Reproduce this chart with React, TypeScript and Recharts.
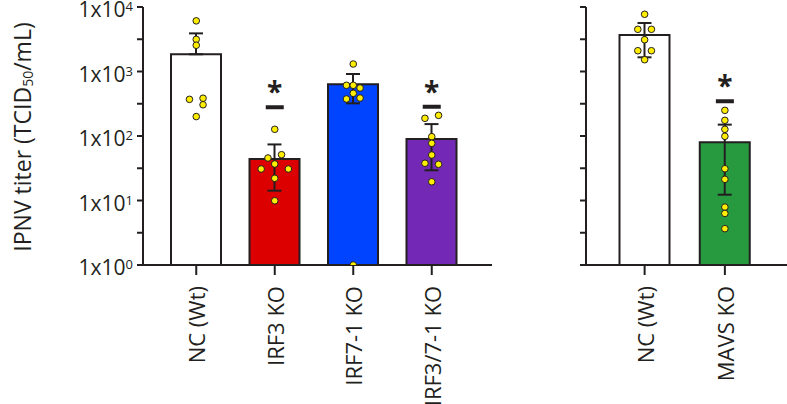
import React from 'react';
import { ComposedChart, Bar, Cell, ErrorBar, Scatter, XAxis, YAxis, Label } from 'recharts';

const INK = '#231f20';
const FONT = '"Open Sans", sans-serif';
const DOT_FILL = '#ffee00';
const LANE_PX = 6.8;

// left panel: IRF knockouts
const leftGroups = ['NC (Wt)', 'IRF3 KO', 'IRF7-1 KO', 'IRF3/7-1 KO'];
const leftMeans = [1850, 44, 632, 90];
const leftLow = [1850, 14.2, 321, 29.4];
const leftHigh = [3900, 74, 914, 153];
const leftDots = [
  [6100, 3150, 2550, 370, 385, 305, 200],
  [127, 45.6, 51.3, 36.8, 30.8, 30.8, 22.1, 9.9],
  [1306, 611, 611, 555, 459, 375, 388, 1],
  [188, 209, 97.5, 77, 50.7, 37.8, 36.4, 19.5],
];
const leftLanes = [
  [0, 0, 0, -1, 1, 1, 0],
  [0, -1, 1, 0, -2, 2, 0, 0],
  [0, -1, 0, 1, 0, -1, 1, 0],
  [-1, 1, 0, 0, 0, -1, 1, 0],
];
const leftSig = [null, 280, null, 284];
const leftColors = ['#ffffff', '#dd0000', '#0044ff', '#7329b5'];

// right panel: MAVS knockout
const rightGroups = ['NC (Wt)', 'MAVS KO'];
const rightMeans = [3680, 80];
const rightLow = [1660, 12.3];
const rightHigh = [5650, 150];
const rightDots = [
  [7710, 4510, 4510, 3110, 2100, 2100, 1524],
  [250, 175, 127, 98.9, 31.1, 21.3, 7.9, 6.3, 3.66],
];
const rightLanes = [
  [0, -1, 1, 0, -1, 1, 0],
  [0, 0, 0, 0, 0, 0, 0, 0, 0],
];
const rightSig = [null, 347];
const rightColors = ['#ffffff', '#27993f'];

const yTicks = [1, 3.162, 10, 31.62, 100, 316.2, 1000, 3162, 10000];
const MAX_DOTS = 9;

const buildRows = (groups, means, low, high, dots, sig) =>
  groups.map((name, i) => {
    const row: any = { name, mean: means[i], err: [means[i] - low[i], high[i] - means[i]], sig: sig[i] };
    for (let k = 0; k < MAX_DOTS; k++) row['d' + k] = dots[i][k] ?? null;
    return row;
  });

const leftRows = buildRows(leftGroups, leftMeans, leftLow, leftHigh, leftDots, leftSig);
const rightRows = buildRows(rightGroups, rightMeans, rightLow, rightHigh, rightDots, rightSig);

const makeDot = (groups: string[], lanes: number[][], k: number) => (props: any) => {
  const { cx, cy, payload } = props;
  if (!payload || payload['d' + k] == null || !Number.isFinite(cx) || !Number.isFinite(cy)) return <g />;
  const gi = groups.indexOf(payload.name);
  const lane = lanes[gi]?.[k] ?? 0;
  return <circle cx={cx + lane * LANE_PX} cy={cy} r={3.3} fill={DOT_FILL} stroke={INK} strokeWidth={1} />;
};

const SigMark = (props: any) => {
  const { cx, cy, payload } = props;
  if (!payload || payload.sig == null || !Number.isFinite(cy)) return <g />;
  return (
    <g>
      <line x1={cx - 9} x2={cx + 9} y1={cy} y2={cy} stroke={INK} strokeWidth={4} />
      <text x={cx} y={cy - 5} textAnchor="middle" fontSize={28} fontWeight="bold" fill={INK} fontFamily={FONT}>
        *
      </text>
    </g>
  );
};

const XTick = (props: any) => {
  const { x, y, payload } = props;
  return (
    <text
      transform={`translate(${x},${y + 9}) rotate(-90)`}
      textAnchor="end"
      dominantBaseline="central"
      fontSize={22}
      fill={INK}
      fontFamily={FONT}
    >
      {payload.value}
    </text>
  );
};

const YTick = (props: any) => {
  const { x, y, payload } = props;
  const lg = Math.log10(payload.value);
  const exp = Math.round(lg);
  if (Math.abs(lg - exp) > 0.01) return <g />;
  return (
    <text x={x - 2} y={y + 10} textAnchor="end" fontSize={21} fill={INK} fontFamily={FONT}>
      1x10<tspan dy={-6} fontSize={13}>{exp}</tspan>
    </text>
  );
};

const YTitle = () => (
  <text transform="translate(22,137) rotate(-90)" textAnchor="middle" dominantBaseline="central" fontSize={23} fill={INK} fontFamily={FONT}>
    IPNV titer (TCID<tspan dy={5} fontSize={14}>50</tspan>
    <tspan dy={-5}>/mL)</tspan>
  </text>
);

const Panel = ({ rows, groups, lanes, colors, width, yWidth, padding, showLabels }: any) => (
  <ComposedChart width={width} height={404} data={rows} margin={{ top: 7, right: 0, bottom: 0, left: 0 }}>
    <XAxis
      dataKey="name"
      interval={0}
      height={139}
      padding={padding}
      tickSize={10}
      tick={<XTick />}
      axisLine={{ stroke: INK, strokeWidth: 2 }}
      tickLine={{ stroke: INK, strokeWidth: 2 }}
    />
    <YAxis
      type="number"
      scale="log"
      domain={[1, 10000]}
      ticks={yTicks}
      interval={0}
      allowDataOverflow
      width={yWidth}
      tickSize={6}
      tick={showLabels ? <YTick /> : () => <g />}
      axisLine={{ stroke: INK, strokeWidth: 2 }}
      tickLine={{ stroke: INK, strokeWidth: 2 }}
    >
      {showLabels && <Label content={<YTitle />} />}
    </YAxis>
    <Bar dataKey="mean" barSize={50} stroke={INK} strokeWidth={2} isAnimationActive={false}>
      {rows.map((r: any, i: number) => (
        <Cell key={r.name} fill={colors[i]} />
      ))}
      <ErrorBar dataKey="err" direction="y" width={7} stroke={INK} strokeWidth={2} isAnimationActive={false} />
    </Bar>
    {Array.from({ length: MAX_DOTS }, (_, k) => (
      <Scatter key={k} dataKey={'d' + k} shape={makeDot(groups, lanes, k)} isAnimationActive={false} />
    ))}
    <Scatter dataKey="sig" shape={<SigMark />} isAnimationActive={false} />
  </ComposedChart>
);

export default function App() {
  return (
    <div style={{ position: 'absolute', left: 0, top: 0, width: 787, height: 404, background: '#fff', fontFamily: FONT }}>
      <div style={{ position: 'absolute', left: 0, top: 0 }}>
        <Panel
          rows={leftRows}
          groups={leftGroups}
          lanes={leftLanes}
          colors={leftColors}
          width={492}
          yWidth={143}
          padding={{ left: 14, right: 21 }}
          showLabels
        />
      </div>
      <div style={{ position: 'absolute', left: 480, top: 0 }}>
        <Panel
          rows={rightRows}
          groups={rightGroups}
          lanes={rightLanes}
          colors={rightColors}
          width={307}
          yWidth={106}
          padding={{ left: 18.5, right: 22 }}
          showLabels={false}
        />
      </div>
    </div>
  );
}
